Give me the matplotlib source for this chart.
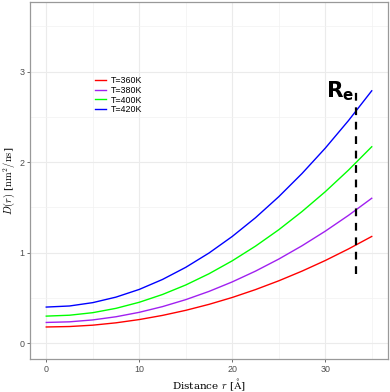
import numpy as np
import matplotlib.pyplot as plt

# distance (A) and D(r)
r = [0, 2.5, 5, 7.5, 10, 12.5, 15, 17.5, 20, 22.5, 25, 27.5, 30, 32.5, 35]
d360 = [0.180, 0.185, 0.200, 0.226, 0.262, 0.308, 0.364, 0.430, 0.506, 0.593, 0.690, 0.797, 0.914, 1.042, 1.180]
d380 = [0.230, 0.237, 0.258, 0.293, 0.342, 0.405, 0.482, 0.573, 0.678, 0.797, 0.930, 1.077, 1.238, 1.413, 1.602]
d400 = [0.300, 0.310, 0.338, 0.386, 0.453, 0.539, 0.644, 0.768, 0.911, 1.073, 1.254, 1.455, 1.674, 1.913, 2.171]
d420 = [0.400, 0.412, 0.449, 0.510, 0.595, 0.705, 0.839, 0.997, 1.180, 1.387, 1.619, 1.875, 2.155, 2.460, 2.789]
labels = ["T=360K", "T=380K", "T=400K", "T=420K"]
colors = ["#FF0000", "#A020F0", "#00FF00", "#0000FF"]

re_x = 33.3
re_y = [0.765, 2.81]

plt.rcParams['mathtext.fontset'] = 'cm'

fig = plt.figure(figsize=(3.9, 3.92), dpi=100)
ax = fig.add_axes([30/390, 1 - 359.3/392, 358/390, 357.3/392])

for d, lab, c in zip([d360, d380, d400, d420], labels, colors):
    ax.plot(r, d, color=c, lw=1.0, label=lab)

ax.plot([re_x, re_x], re_y, color='black', lw=1.6, linestyle=(0, (3.5, 3)))
ax.text(30.1, 2.72, r'$\mathbf{R}_{\mathbf{e}}$', math_fontfamily='dejavusans',
        fontsize=15.5, ha='left', va='baseline')

ax.set_xlim(-1.75, 36.75)
ax.set_ylim(-0.177, 3.77)
ax.set_xticks([0, 10, 20, 30])
ax.set_yticks([0, 1, 2, 3])
ax.set_xticks([5, 15, 25, 35], minor=True)
ax.set_yticks([0.5, 1.5, 2.5, 3.5], minor=True)
ax.grid(which='major', color='#EBEBEB', lw=0.8)
ax.grid(which='minor', color='#F2F2F2', lw=0.5)
ax.set_axisbelow(True)
ax.tick_params(which='major', length=2.5, width=0.6, color='#555555',
               labelsize=6.4, labelcolor='#4D4D4D', pad=1.5)
ax.tick_params(which='minor', length=0)
for lab in ax.get_xticklabels() + ax.get_yticklabels():
    lab.set_fontfamily('Liberation Sans')
for s in ax.spines.values():
    s.set_color('#999999')
    s.set_linewidth(0.9)

ax.set_xlabel(r'Distance $r$ [$\mathrm{\AA}$]', fontsize=7.5, math_fontfamily='cm', labelpad=2)
ax.set_ylabel(r'$D(r)$ [$\mathrm{nm}^2/\mathrm{ns}$]', fontsize=7.5, math_fontfamily='cm',
              labelpad=2)
ax.xaxis.label.set_fontfamily('DejaVu Serif')
ax.yaxis.label.set_fontfamily('DejaVu Serif')

leg = ax.legend(loc='upper left', bbox_to_anchor=(0.17, 0.806), frameon=False,
                prop={'family': 'Liberation Sans', 'size': 6.4},
                handlelength=1.2, handletextpad=0.6, labelspacing=0.1, borderpad=0)

fig.savefig('out.png', dpi=100)
